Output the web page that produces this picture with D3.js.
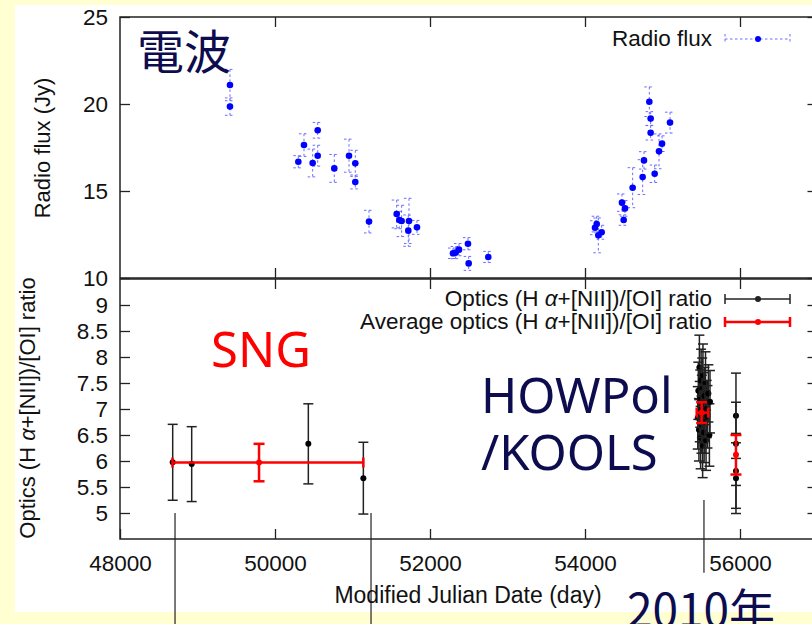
<!DOCTYPE html>
<html>
<head>
<meta charset="utf-8">
<script src="https://cdn.jsdelivr.net/npm/d3@7"></script>
<style>
  body { margin: 0; background: #ffffd2; }
  svg { display: block; }
  .tick text { font-family: "Liberation Sans", Arial, sans-serif; font-size: 22.5px; fill: #111; }
  .tick line { stroke: #222; stroke-width: 1.3; }
  .lbl { font-family: "Liberation Sans", Arial, sans-serif; font-size: 22px; fill: #111; }
</style>
</head>
<body>
<div id="chart"></div>
<script>
// radio flux (Jy) vs MJD
const radioMjd = [49419, 49419, 50301, 50374, 50486, 50551, 50551, 50765, 50955, 51036, 51036,
  51213, 51570, 51604, 51634, 51729, 51720, 51832, 52297, 52331, 52374, 52490, 52499, 52752,
  54129, 54151, 54172, 54215, 54477, 54499, 54516, 54615, 54744, 54761, 54830, 54847, 54847,
  54899, 54955, 54994, 55097];
const radioFlux = [21.09, 19.85, 16.68, 17.64, 16.61, 18.49, 17.03, 16.30, 17.03, 16.59, 15.52,
  13.24, 13.68, 13.33, 13.28, 13.28, 12.72, 12.91, 11.42, 11.46, 11.63, 11.97, 10.84, 11.21,
  12.89, 13.10, 12.45, 12.63, 14.33, 13.33, 14.00, 15.19, 15.80, 16.76, 20.13, 19.16, 18.35,
  15.99, 17.28, 17.72, 18.93];
const radioErr = [0.9, 0.5, 0.35, 0.65, 0.8, 0.45, 0.6, 0.8, 0.95, 0.75, 0.4,
  0.65, 0.8, 0.5, 0.9, 1.3, 0.9, 0.4, 0.3, 0.35, 0.35, 0.35, 0.4, 0.32,
  0.4, 0.45, 1.0, 0.4, 0.5, 0.3, 0.45, 1.15, 1.0, 0.5, 0.85, 0.4, 0.42,
  0.5, 1.0, 0.45, 0.6];

// optical (Ha+[NII])/[OI] ratio
const opticsMjd = [48680, 48925, 50430, 51140,
  55455, 55462, 55470, 55476, 55481, 55487, 55492, 55498, 55503, 55508, 55512, 55518, 55522,
  55527, 55532, 55537, 55542, 55548, 55555, 55562, 55570, 55580, 55592, 55605, 55613,
  55948, 55948, 55948, 55948];
const opticsRatio = [5.975, 5.94, 6.33, 5.67,
  6.83, 7.35, 6.60, 7.80, 6.95, 7.20, 6.45, 7.55, 6.70, 7.05, 7.40, 6.30, 7.65,
  6.90, 7.10, 6.55, 7.25, 6.75, 7.50, 6.40, 7.00, 6.85, 7.30, 6.50, 7.14,
  6.87, 6.33, 5.81, 5.67];
const opticsErr = [0.73, 0.72, 0.77, 0.69,
  0.6, 0.55, 0.6, 0.62, 0.58, 0.55, 0.6, 0.6, 0.55, 0.6, 0.58, 0.62, 0.6,
  0.55, 0.6, 0.58, 0.55, 0.6, 0.6, 0.58, 0.55, 0.6, 0.55, 0.6, 0.6,
  0.82, 0.80, 0.72, 0.68];

// averages (with MJD range)
const avgMjd = [49794, 55505, 55948];
const avgLow = [48677, 55441, 55948];
const avgHigh = [51140, 55591, 55948];
const avgRatio = [5.97, 6.93, 6.12];
const avgErr = [0.36, 0.2, 0.38];

// annotation marks (MJD, ratio from, ratio to)
const markMjd = [48710, 51239, 55535];
const markFrom = [5.0, 5.0, 5.25];
const markTo = [2.8, 2.8, 3.85];

const xTicks = [48000, 50000, 52000, 54000, 56000];
const radioTicks = [10, 15, 20, 25];
const ratioTicks = [5, 5.5, 6, 6.5, 7, 7.5, 8, 8.5, 9];

const W = 812, H = 624;
const svg = d3.select('#chart').append('svg').attr('width', W).attr('height', H);

// slide-like white card on yellow background
svg.append('rect').attr('x', 15).attr('y', 5).attr('width', W).attr('height', 607).attr('fill', '#fff');

const x = d3.scaleLinear().domain([48000, 57000]).range([120, 817.5]);
const yTop = d3.scaleLinear().domain([10, 25]).range([278, 17]);
const yBot = d3.scaleLinear().domain([4.5, 9.5]).range([539, 279]);

const fmt = (d) => String(d);

function frame(y, ticks, labelX) {
  const bottom = y.range()[0], top = y.range()[1];
  svg.append('g').attr('transform', `translate(0,${top})`)
    .call(d3.axisTop(x).tickValues(xTicks.slice(1)).tickSizeInner(-10).tickSizeOuter(0).tickFormat(''));
  svg.append('g').attr('transform', `translate(${x.range()[1]},0)`)
    .call(d3.axisRight(y).tickValues(ticks).tickSizeInner(-10).tickSizeOuter(0).tickFormat(''));
  svg.append('g').attr('transform', `translate(${x.range()[0]},0)`)
    .call(d3.axisLeft(y).tickValues(ticks).tickSizeInner(-10).tickSizeOuter(0).tickPadding(12).tickFormat(fmt));
  svg.append('g').attr('transform', `translate(0,${bottom})`)
    .call(d3.axisBottom(x).tickValues(labelX ? xTicks : xTicks.slice(1)).tickSizeInner(-10).tickSizeOuter(0)
      .tickPadding(16).tickFormat(labelX ? d3.format('d') : ''));
  svg.selectAll('.domain').remove();
  svg.append('rect')
    .attr('x', x.range()[0]).attr('y', top)
    .attr('width', x.range()[1] - x.range()[0]).attr('height', bottom - top)
    .attr('fill', 'none').attr('stroke', '#222').attr('stroke-width', 1.5);
}
frame(yTop, radioTicks, false);
frame(yBot, ratioTicks, true);

// radio points with dashed error bars
const radio = radioMjd.map((m, i) => ({ m, v: radioFlux[i], e: radioErr[i] }));
const rg = svg.append('g');
const rb = rg.selectAll('g').data(radio).join('g')
  .attr('stroke', '#6b6bff').attr('stroke-width', 1).attr('stroke-dasharray', '2.5,2.5');
rb.append('line').attr('x1', (d) => x(d.m)).attr('x2', (d) => x(d.m))
  .attr('y1', (d) => yTop(d.v + d.e)).attr('y2', (d) => yTop(d.v - d.e));
[1, -1].forEach((s) => {
  rb.append('line').attr('x1', (d) => x(d.m) - 5).attr('x2', (d) => x(d.m) + 5)
    .attr('y1', (d) => yTop(d.v + s * d.e)).attr('y2', (d) => yTop(d.v + s * d.e));
});
rg.selectAll('circle').data(radio).join('circle')
  .attr('cx', (d) => x(d.m)).attr('cy', (d) => yTop(d.v)).attr('r', 3.3).attr('fill', '#0000ff');

// optics points
const optics = opticsMjd.map((m, i) => ({ m, v: opticsRatio[i], e: opticsErr[i] }));
const og = svg.append('g').attr('stroke', '#222').attr('stroke-width', 1.5);
optics.forEach((d) => {
  og.append('line').attr('x1', x(d.m)).attr('x2', x(d.m)).attr('y1', yBot(d.v + d.e)).attr('y2', yBot(d.v - d.e));
  [1, -1].forEach((s) => og.append('line').attr('x1', x(d.m) - 5).attr('x2', x(d.m) + 5)
    .attr('y1', yBot(d.v + s * d.e)).attr('y2', yBot(d.v + s * d.e)));
  og.append('circle').attr('cx', x(d.m)).attr('cy', yBot(d.v)).attr('r', 3).attr('fill', '#000').attr('stroke', 'none');
});

// averages
const avg = avgMjd.map((m, i) => ({ m, lo: avgLow[i], hi: avgHigh[i], v: avgRatio[i], e: avgErr[i] }));
const ag = svg.append('g').attr('stroke', '#ff0000').attr('stroke-width', 2.5);
avg.forEach((d) => {
  if (d.hi > d.lo) {
    ag.append('line').attr('x1', x(d.lo)).attr('x2', x(d.hi)).attr('y1', yBot(d.v)).attr('y2', yBot(d.v));
    [d.lo, d.hi].forEach((m) => ag.append('line').attr('x1', x(m)).attr('x2', x(m))
      .attr('y1', yBot(d.v) - 5).attr('y2', yBot(d.v) + 5));
  }
  ag.append('line').attr('x1', x(d.m)).attr('x2', x(d.m)).attr('y1', yBot(d.v + d.e)).attr('y2', yBot(d.v - d.e));
  [1, -1].forEach((s) => ag.append('line').attr('x1', x(d.m) - 5.5).attr('x2', x(d.m) + 5.5)
    .attr('y1', yBot(d.v + s * d.e)).attr('y2', yBot(d.v + s * d.e)));
  ag.append('circle').attr('cx', x(d.m)).attr('cy', yBot(d.v)).attr('r', 3).attr('fill', '#ff0000').attr('stroke', 'none');
});

// annotation lines
markMjd.forEach((m, i) => {
  svg.append('line').attr('x1', x(m)).attr('x2', x(m)).attr('y1', yBot(markFrom[i])).attr('y2', yBot(markTo[i]))
    .attr('stroke', '#222').attr('stroke-width', 1.2);
});

// legends
function legendSample(y, color, width, dashed) {
  const g = svg.append('g').attr('stroke', color).attr('stroke-width', width);
  if (dashed) g.attr('stroke-dasharray', '2.5,2.5');
  g.append('line').attr('x1', 725).attr('x2', 790).attr('y1', y).attr('y2', y);
  [725, 790].forEach((xx) => g.append('line').attr('x1', xx).attr('x2', xx).attr('y1', y - 5).attr('y2', y + 5));
  svg.append('circle').attr('cx', 758).attr('cy', y).attr('r', 3).attr('fill', dashed ? '#0000ff' : color);
}
svg.append('text').attr('class', 'lbl').attr('x', 712).attr('y', 46).attr('text-anchor', 'end').style('font-size', '22.5px').text('Radio flux');
legendSample(39, '#6b6bff', 1, true);

function ratioText(sel, prefix) {
  sel.append('tspan').text(prefix + '(H ');
  sel.append('tspan').style('font-style', 'italic').text('α');
  sel.append('tspan').text('+[NII])/[OI] ratio');
}
ratioText(svg.append('text').attr('class', 'lbl').attr('x', 712).attr('y', 306).attr('text-anchor', 'end').style('font-size', '22.5px'), 'Optics ');
legendSample(299, '#222', 1.5, false);
ratioText(svg.append('text').attr('class', 'lbl').attr('x', 712).attr('y', 329).attr('text-anchor', 'end').style('font-size', '22.5px'), 'Average optics ');
legendSample(322, '#ff0000', 2.5, false);

// axis titles
svg.append('text').attr('class', 'lbl').attr('transform', 'translate(50,148) rotate(-90)')
  .attr('text-anchor', 'middle').text('Radio flux (Jy)');
ratioText(svg.append('text').attr('class', 'lbl').attr('transform', 'translate(35,408) rotate(-90)')
  .attr('text-anchor', 'middle'), 'Optics ');
svg.append('text').attr('class', 'lbl').attr('x', 468).attr('y', 603).attr('text-anchor', 'middle')
  .style('font-size', '23px').text('Modified Julian Date (day)');

// slide annotations
const navy = '#0c0c4e';
svg.append('text').attr('x', 137).attr('y', 69).attr('fill', navy)
  .style('font-family', '"Noto Sans CJK JP", sans-serif').style('font-size', '47px').text('電波');
svg.append('text').attr('x', 211).attr('y', 367).attr('fill', '#ff0000')
  .style('font-family', '"Noto Sans", sans-serif').style('font-size', '49px').text('SNG');
svg.append('text').attr('x', 481).attr('y', 413).attr('fill', navy)
  .style('font-family', '"Noto Sans", sans-serif').style('font-size', '49px').text('HOWPol');
svg.append('text').attr('x', 481).attr('y', 470).attr('fill', navy)
  .style('font-family', '"Noto Sans", sans-serif').style('font-size', '49px').text('/KOOLS');
svg.append('text').attr('x', 627).attr('y', 627).attr('fill', navy)
  .style('font-family', '"Noto Sans CJK JP", sans-serif').style('font-size', '46px').text('2010年');
</script>
</body>
</html>
